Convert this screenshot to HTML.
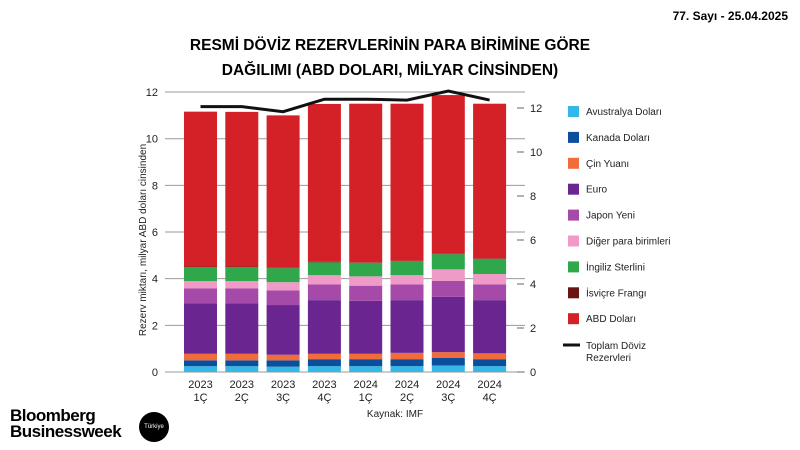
<!DOCTYPE html>
<html><head><meta charset="utf-8"><style>
body{margin:0;width:800px;height:450px;background:#fff;font-family:"Liberation Sans",sans-serif;overflow:hidden;position:relative}
.t{position:absolute}
</style></head><body>
<div class="t" style="right:12px;top:9px;font-size:12px;font-weight:bold">77. Sayı - 25.04.2025</div>
<div class="t" style="left:150px;width:480px;top:33px;text-align:center;font-size:15.5px;font-weight:bold;line-height:25px">RESMİ DÖVİZ REZERVLERİNİN PARA BİRİMİNE GÖRE<br>DAĞILIMI (ABD DOLARI, MİLYAR CİNSİNDEN)</div>
<div class="t" style="left:10px;top:408px;font-size:17px;font-weight:bold;line-height:16px;letter-spacing:-0.5px">Bloomberg<br>Businessweek</div>
<div class="t" style="left:139px;top:412px;width:30px;height:30px;border-radius:50%;background:#000;color:#fff;font-size:6px;text-align:center;line-height:30px">Türkiye</div>
<svg id="c" width="800" height="450" style="position:absolute;left:0;top:0"></svg>
<script>
const categories=["2023|1Ç","2023|2Ç","2023|3Ç","2023|4Ç","2024|1Ç","2024|2Ç","2024|3Ç","2024|4Ç"];
const seriesNames=["Avustralya Doları","Kanada Doları","Çin Yuanı","Euro","Japon Yeni","Diğer para birimleri","İngiliz Sterlini","İsviçre Frangı","ABD Doları"];
const colors=["#35b8e8","#0b4f9c","#f26b3a","#6a2590","#a54aa8","#f09ac8","#2ea84a","#6b1414","#d42027"];
// cumulative tops per bar
const lbTop=[0.25,0.25,0.23,0.25,0.25,0.25,0.28,0.25];
const dbTop=[0.5,0.5,0.5,0.55,0.55,0.55,0.6,0.55];
const orTop=[0.78,0.78,0.74,0.78,0.78,0.82,0.85,0.8];
const euTop=[2.95,2.95,2.87,3.08,3.05,3.08,3.22,3.08];
const jpTop=[3.58,3.58,3.5,3.75,3.7,3.75,3.9,3.75];
const otTop=[3.9,3.9,3.85,4.15,4.1,4.15,4.4,4.2];
const gbTop=[4.5,4.5,4.45,4.7,4.68,4.75,5.05,4.85];
const chTop=[4.52,4.52,4.47,4.72,4.7,4.77,5.07,4.87];
const usTop=[11.16,11.15,11.0,11.49,11.5,11.5,11.87,11.5];
const totalLine=[12.06,12.06,11.83,12.4,12.4,12.36,12.77,12.36];
const leftTicks=[0,2,4,6,8,10,12];
const rightTicks=[0,2,4,6,8,10,12];
const svg=document.getElementById('c');const NS="http://www.w3.org/2000/svg";
function mk(t,a,p){const e=document.createElementNS(NS,t);for(const k in a)e.setAttribute(k,a[k]);(p||svg).appendChild(e);return e;}
const yL=v=>372-v*23.33, yR=v=>372-v*22, xC=i=>200.5+i*41.3;
leftTicks.forEach(v=>{const l=mk('line',{x1:165,x2:525,y1:yL(v),y2:yL(v),stroke:'#999','stroke-width':1});

const t=mk('text',{x:158,y:yL(v)+4,'text-anchor':'end','font-size':11,fill:'#222'});t.textContent=v;
});
rightTicks.forEach(v=>{const l=mk('line',{x1:517,x2:524,y1:yR(v),y2:yR(v),stroke:'#666'});

const t=mk('text',{x:530,y:yR(v)+4,'font-size':11,fill:'#222'});t.textContent=v;
});
const tops=[lbTop,dbTop,orTop,euTop,jpTop,otTop,gbTop,chTop,usTop];
categories.forEach((c,i)=>{let prev=0;tops.forEach((arr,s)=>{const r=mk('rect',{x:xC(i)-16.5,width:33,y:yL(arr[i]),height:Math.max(0,yL(prev)-yL(arr[i])),fill:colors[s]});
prev=arr[i];});
const p=c.split('|');[0,1].forEach(k=>{const t=mk('text',{x:xC(i),y:388+k*13,'text-anchor':'middle','font-size':11,fill:'#222'});t.textContent=p[k];
});});
const ln=mk('polyline',{points:totalLine.map((v,i)=>xC(i)+','+yR(v)).join(' '),fill:'none',stroke:'#111','stroke-width':3});

const yt=mk('text',{transform:'translate(146,240) rotate(-90)','text-anchor':'middle','font-size':10,fill:'#222'});yt.textContent='Rezerv miktarı, milyar ABD doları cinsinden';

const src=mk('text',{x:395,y:417,'text-anchor':'middle','font-size':10,fill:'#222'});src.textContent='Kaynak: IMF';

seriesNames.forEach((n,i)=>{const y=111+i*25.9;const r=mk('rect',{x:568,y:y-5,width:11,height:11,fill:colors[i]});

const t=mk('text',{x:586,y:y+4,'font-size':10,fill:'#222'});t.textContent=n;
});
const ll=mk('line',{x1:563,x2:580,y1:345,y2:345,stroke:'#111','stroke-width':3});

['Toplam Döviz','Rezervleri'].forEach((s,k)=>{const t=mk('text',{x:586,y:349+k*12,'font-size':10,fill:'#222'});t.textContent=s;
});
</script>
</body></html>
